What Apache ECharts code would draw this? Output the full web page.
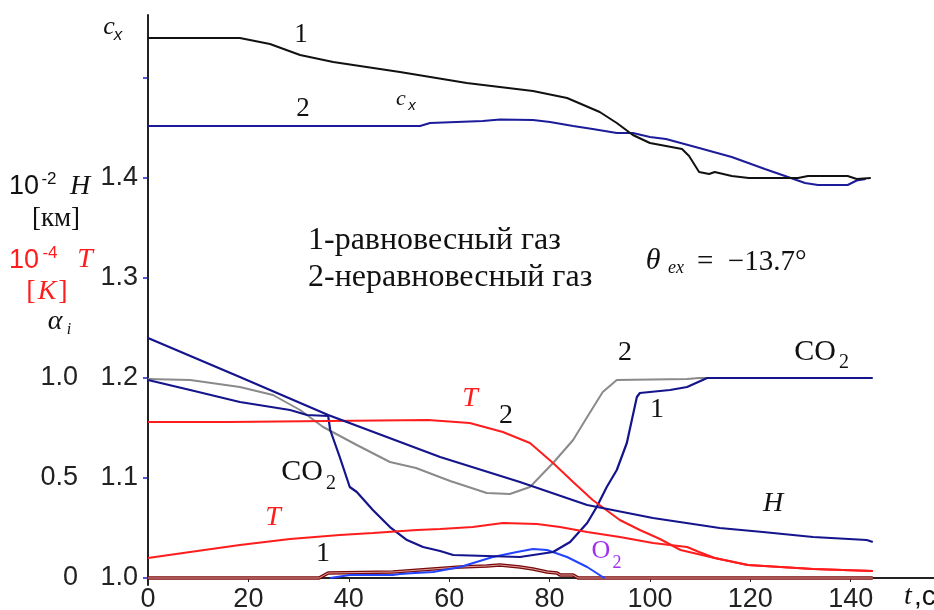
<!DOCTYPE html>
<html><head><meta charset="utf-8">
<script src="https://cdn.jsdelivr.net/npm/echarts@6/dist/echarts.min.js"></script>
<style>html,body{margin:0;padding:0;background:#fff}#c{width:934px;height:610px}</style>
</head><body><div id="c"></div>
<script>
// ---- axis ticks ----
const tTicks = [0, 20, 40, 60, 80, 100, 120, 140];
const mainTicks = [1.0, 1.1, 1.2, 1.3, 1.4, 1.5];
const mainLabels = [1.0, 1.1, 1.2, 1.3, 1.4];
const alphaTicks = [0, 0.5, 1.0];

// ---- c_x (main axis) ----
const cx1 = [[0,1.540],[18.3,1.540],[24.3,1.534],[30.3,1.523],[36.9,1.516],[50.2,1.506],[63.5,1.495],[76.7,1.487],[83.5,1.480],[90.0,1.466],[93.4,1.455],[96.6,1.443],[100.0,1.435],[103.2,1.432],[106.4,1.429],[107.8,1.422],[109.8,1.406],[111.8,1.404],[112.9,1.406],[116.3,1.402],[119.7,1.400],[129.5,1.400],[131.5,1.402],[139.4,1.402],[141.2,1.399],[144.0,1.400]];
const cx2 = [[0,1.452],[54.2,1.452],[56.2,1.455],[66.7,1.457],[70.1,1.4585],[76.7,1.458],[80.1,1.456],[84.7,1.452],[88.6,1.449],[93.4,1.445],[96.6,1.445],[100.0,1.441],[103.2,1.439],[109.8,1.430],[116.3,1.421],[122.9,1.409],[127.5,1.401],[130.9,1.395],[133.5,1.393],[139.4,1.393],[141.2,1.3975],[143.0,1.399]];

// ---- 10^-2 H [km] and 10^-4 T [K] (main axis) ----
const H = [[0,1.240],[18.3,1.201],[35.9,1.163],[58.2,1.121],[74.1,1.096],[87.5,1.073],[100.6,1.060],[113.9,1.050],[122.5,1.046],[132.5,1.041],[143.2,1.038],[144.4,1.036]];
const T2 = [[0,1.156],[15.9,1.156],[16.0,1.158],[55.8,1.158],[64.1,1.155],[70.7,1.146],[76.1,1.135],[80.7,1.115],[84.7,1.096],[88.6,1.078],[94.0,1.058],[98.0,1.048],[102.0,1.039],[106.1,1.028],[112.9,1.020],[119.5,1.013],[132.5,1.009],[144.4,1.007]];
const T1 = [[0,1.020],[8.4,1.026],[18.3,1.033],[28.3,1.039],[38.2,1.043],[44.8,1.045],[53.6,1.048],[58.2,1.049],[64.7,1.051],[70.7,1.055],[77.5,1.054],[82.1,1.051],[87.5,1.046],[94.0,1.041],[100.6,1.035],[107.4,1.031],[109.8,1.026],[112.9,1.020],[119.5,1.013],[132.5,1.009],[144.4,1.007]];

// ---- alpha_i (second axis) ----
const co2Neq = [[0,0.995],[8.4,0.99],[18.3,0.955],[24.9,0.915],[30.3,0.84],[34.9,0.755],[41.6,0.665],[48.2,0.58],[53.4,0.55],[60.2,0.485],[67.5,0.425],[72.1,0.42],[76.1,0.455],[80.7,0.575],[84.7,0.69],[87.5,0.805],[90.6,0.93],[93.4,0.99],[107.4,0.995],[109.8,1.0],[112.0,1.0]];
const co2Eq = [[0,0.99],[8.4,0.94],[18.3,0.88],[28.3,0.84],[31.7,0.815],[35.9,0.81],[36.3,0.74],[38.2,0.605],[40.2,0.455],[41.6,0.43],[44.8,0.34],[48.2,0.255],[51.6,0.19],[54.8,0.155],[58.2,0.135],[60.8,0.115],[74.1,0.105],[80.7,0.13],[84.1,0.18],[87.5,0.275],[89.4,0.355],[91.4,0.455],[93.4,0.54],[95.4,0.675],[97.4,0.905],[98.0,0.925],[104.0,0.94],[107.4,0.955],[111.4,1.0],[144.4,1.0]];
const o2 = [[36.3,0],[40.2,0.015],[48.8,0.015],[50.2,0.02],[53.2,0.025],[56.8,0.03],[62.2,0.055],[68.7,0.105],[73.5,0.13],[76.7,0.145],[79.5,0.14],[83.5,0.105],[87.5,0.055],[90.6,0.005],[91.0,0]];
const minor = [[0,0],[34.1,0],[35.9,0.025],[48.8,0.03],[56.8,0.045],[62.2,0.055],[67.5,0.06],[70.1,0.065],[74.1,0.055],[76.7,0.045],[79.5,0.03],[81.5,0.025],[82.1,0.015],[84.7,0.015],[85.7,0],[144.4,0]];

const SANS = '"Liberation Sans",Arial,sans-serif';
const SERIF = '"Liberation Serif","DejaVu Serif",serif';

function txt(text, x, y, size, o) {
  o = o || {};
  return {
    type: 'text', x: x, y: y, z: 100,
    style: {
      text: text,
      font: (o.italic ? 'italic ' : '') + size + 'px ' + (o.family || SERIF),
      fill: o.color || '#111',
      textAlign: o.align || 'center', align: o.align || 'center',
      textVerticalAlign: 'middle', verticalAlign: 'middle'
    }
  };
}

const chart = echarts.init(document.getElementById('c'), null, {renderer: 'canvas'});

function line(name, data, color, width, gi, z) {
  return {
    name: name, type: 'line', data: data, xAxisIndex: gi, yAxisIndex: gi,
    showSymbol: false, symbol: 'none', smooth: false, z: z || 2,
    lineStyle: {color: color, width: width}, animation: false, silent: true
  };
}

chart.setOption({
  animation: false,
  grid: [
    {left: 148, top: 15, width: 786, height: 563, outerBoundsMode: 'none', containLabel: false},
    {left: 148, top: 338, width: 786, height: 247, outerBoundsMode: 'none', containLabel: false}
  ],
  xAxis: [
    {type: 'value', gridIndex: 0, min: 0, max: 156.6,
     axisLine: {show: true, lineStyle: {color: '#222', width: 2}},
     axisTick: {show: true, customValues: tTicks, length: 4, lineStyle: {color: '#222', width: 1}},
     axisLabel: {customValues: tTicks, fontFamily: SANS, fontSize: 27, color: '#222', margin: 8},
     splitLine: {show: false}},
    {type: 'value', gridIndex: 1, min: 0, max: 156.6, show: false}
  ],
  yAxis: [
    {type: 'value', gridIndex: 0, min: 1.0, max: 1.563,
     axisLine: {show: true, lineStyle: {color: '#222', width: 2}},
     axisTick: {show: true, customValues: mainTicks, length: 5, lineStyle: {color: '#2020c0', width: 1.5}},
     axisLabel: {customValues: mainLabels, fontFamily: SANS, fontSize: 27, color: '#222', margin: 10,
                 formatter: v => Number(v).toFixed(1)},
     splitLine: {show: false}},
    {type: 'value', gridIndex: 1, min: -0.035, max: 1.2, position: 'left', offset: 62,
     axisLine: {show: true, lineStyle: {color: '#222', width: 2}},
     axisTick: {show: true, customValues: alphaTicks, length: 5, lineStyle: {color: '#2020c0', width: 1.5}},
     axisLabel: {customValues: alphaTicks, fontFamily: SANS, fontSize: 27, color: '#222', margin: 8,
                 formatter: v => (Number(v) === 0 ? '0' : Number(v).toFixed(1))},
     splitLine: {show: false}}
  ],
  series: [
    line('minor', minor, '#7a0a0a', 3.5, 1, 2),
    line('minor-in', minor, '#e0a0a0', 1, 1, 3),
    line('O2', o2, '#2244ff', 2, 1, 4),
    line('CO2 neq', co2Neq, '#8a8a8a', 2, 1, 4),
    line('CO2 eq', co2Eq, '#14148c', 2.2, 1, 5),
    line('T1', T1, '#ff1c1c', 2, 0, 5),
    line('T2', T2, '#ff1c1c', 2, 0, 5),
    line('H', H, '#14148c', 2.2, 0, 5),
    line('cx2', cx2, '#1c1c9a', 2, 0, 5),
    line('cx1', cx1, '#111111', 2, 0, 6)
  ],
  graphic: [
    txt('c', 109, 27, 26, {italic: true}),
    txt('x', 118, 35, 17, {italic: true, family: SANS}),
    txt('c', 401, 99, 22, {italic: true}),
    txt('x', 412, 106, 15, {italic: true, family: SANS}),
    txt('1', 301, 35, 27),
    txt('2', 303, 109, 27),
    txt('10', 24, 187, 27, {family: SANS}),
    txt('-2', 49, 179, 17, {family: SANS}),
    txt('H', 80, 187, 28, {italic: true}),
    txt('[км]', 56, 219, 27),
    txt('10', 24, 261, 27, {family: SANS, color: '#ff1c1c'}),
    txt('-4', 50, 253, 17, {family: SANS, color: '#ff1c1c'}),
    txt('T', 85, 260, 28, {italic: true, color: '#ff1c1c'}),
    txt('[', 31, 292, 28, {color: '#ff1c1c'}),
    txt('K', 47, 292, 28, {italic: true, color: '#ff1c1c'}),
    txt(']', 63, 292, 28, {color: '#ff1c1c'}),
    txt('α', 55, 322, 28, {italic: true}),
    txt('i', 69, 330, 16, {italic: true}),
    txt('1-равновесный газ', 308, 241, 32, {align: 'left'}),
    txt('2-неравновесный газ', 308, 278, 32, {align: 'left'}),
    txt('θ', 653, 261, 30, {italic: true}),
    txt('ex', 676, 268, 18, {italic: true}),
    txt('=  −13.7°', 697, 262, 29, {align: 'left'}),
    txt('T', 470, 399, 28, {italic: true, color: '#ff1c1c'}),
    txt('2', 506, 416, 28),
    txt('2', 625, 353, 28),
    txt('CO', 815, 352, 30),
    txt('2', 844, 363, 20),
    txt('1', 657, 410, 28),
    txt('CO', 302, 472, 30),
    txt('2', 331, 484, 20),
    txt('T', 273, 518, 28, {italic: true, color: '#ff1c1c'}),
    txt('1', 323, 554, 28),
    txt('O', 601, 551, 26, {color: '#a030f0'}),
    txt('2', 617, 563, 18, {color: '#a030f0'}),
    txt('H', 773, 504, 28, {italic: true}),
    txt('t', 908, 597, 28, {italic: true}),
    txt(',c', 914, 597, 28, {align: 'left', family: SANS})
  ]
});
</script></body></html>
